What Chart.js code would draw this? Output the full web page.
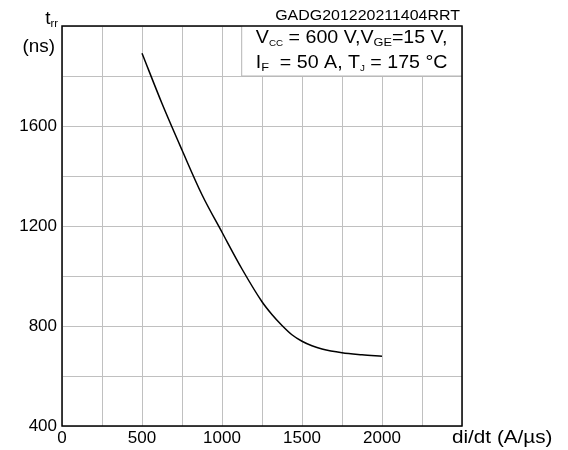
<!DOCTYPE html>
<html>
<head>
<meta charset="utf-8">
<script src="https://cdn.jsdelivr.net/npm/chart.js@4"></script>
<style>
  html, body { margin: 0; padding: 0; background: #fff; }
  #wrap { width: 568px; height: 450px; }
</style>
</head>
<body>
<div id="wrap"><canvas id="chart"></canvas></div>
<script>
// data
const didt = [500, 625, 750, 875, 1000, 1125, 1250, 1312, 1375, 1437, 1500, 1562, 1625, 1750, 1875, 2000];
const trr = [1891, 1690, 1504, 1325, 1175, 1028, 897, 846, 802, 765, 739, 721, 708, 693, 685, 679];
const xTickLabels = ['0', '500', '1000', '1500', '2000'];
const yTickLabels = ['400', '800', '1200', '1600'];

const FONT = '"Liberation Sans", Arial, sans-serif';

// draw a line of text with subscript pieces, horizontally stretched by sx
function drawRich(ctx, parts, x, y, size, align, sx) {
    sx = sx || 1;
    let total = 0;
    parts.forEach(p => {
        ctx.font = (p.sub ? size * p.sub : size) + 'px ' + FONT;
        p.w = ctx.measureText(p.t).width * sx;
        total += p.w;
    });
    let cx = align === 'right' ? x - total : (align === 'left' ? x : x - total / 2);
    ctx.textAlign = 'left';
    ctx.textBaseline = 'alphabetic';
    parts.forEach(p => {
        ctx.font = (p.sub ? size * p.sub : size) + 'px ' + FONT;
        ctx.save();
        ctx.translate(cx, p.sub ? y + size * 0.18 : y);
        ctx.scale(sx, 1);
        ctx.fillText(p.t, 0, 0);
        ctx.restore();
        cx += p.w;
    });
}

const decorations = {
    id: 'decorations',
    afterDraw(chart) {
        const ctx = chart.ctx;
        const a = chart.chartArea;
        const xs = chart.scales.x;
        const ys = chart.scales.y;
        ctx.save();

        // condition box in top-right
        const bx = xs.getPixelForValue(1120);
        const by = ys.getPixelForValue(1800);
        ctx.fillStyle = '#fff';
        ctx.fillRect(bx, a.top, a.right - bx, by - a.top);
        ctx.strokeStyle = '#b4b4b4';
        ctx.lineWidth = 1;
        ctx.beginPath();
        ctx.moveTo(bx + 0.5, a.top);
        ctx.lineTo(bx + 0.5, by);
        ctx.lineTo(a.right, by);
        ctx.stroke();

        ctx.fillStyle = '#000';
        const mid = (bx + a.right) / 2;
        drawRich(ctx, [{t: 'V'}, {t: 'CC', sub: 0.5}, {t: ' = 600 V,V'}, {t: 'GE', sub: 0.65}, {t: '=15 V,'}], mid, 43, 18, 'center', 1.09);
        drawRich(ctx, [{t: 'I'}, {t: 'F', sub: 0.65}, {t: '  = 50 A, T'}, {t: 'J', sub: 0.5}, {t: ' = 175 °C'}], mid, 68, 18, 'center', 1.09);

        // plot frame
        ctx.strokeStyle = '#000';
        ctx.lineWidth = 1.5;
        ctx.strokeRect(a.left, a.top, a.right - a.left, a.bottom - a.top);

        // title
        drawRich(ctx, [{t: 'GADG201220211404RRT'}], 460, 20, 14, 'right', 1.14);

        // axis titles
        drawRich(ctx, [{t: 't'}, {t: 'rr', sub: 0.6}], 58, 24, 18, 'right', 1.05);
        drawRich(ctx, [{t: '(ns)'}], 55, 52, 18, 'right', 1.05);
        drawRich(ctx, [{t: 'di/dt (A/µs)'}], 452, 443, 18, 'left', 1.15);
        ctx.restore();
    }
};

new Chart(document.getElementById('chart'), {
    type: 'line',
    data: {
        datasets: [{
            data: didt.map((x, i) => ({x: x, y: trr[i]})),
            borderColor: '#000',
            borderWidth: 1.5,
            pointRadius: 0,
            cubicInterpolationMode: 'monotone',
            fill: false
        }]
    },
    options: {
        responsive: true,
        maintainAspectRatio: false,
        animation: false,
        layout: { padding: { top: 26, right: 106, left: 0, bottom: 0 } },
        plugins: { legend: { display: false }, tooltip: { enabled: false } },
        scales: {
            x: {
                type: 'linear',
                min: 0,
                max: 2500,
                ticks: {
                    stepSize: 250,
                    maxRotation: 0,
                    autoSkip: false,
                    padding: 2,
                    color: '#000',
                    font: { family: FONT, size: 17 },
                    callback: v => xTickLabels.includes(String(v)) ? String(v) : ''
                },
                grid: { color: '#c0c0c0', lineWidth: 1, drawTicks: false },
                border: { display: false },
                afterFit: s => { s.height = 24; }
            },
            y: {
                min: 400,
                max: 2000,
                ticks: {
                    stepSize: 200,
                    autoSkip: false,
                    padding: 5,
                    color: '#000',
                    font: { family: FONT, size: 17 },
                    callback: v => yTickLabels.includes(String(v)) ? String(v) : ''
                },
                grid: { color: '#c0c0c0', lineWidth: 1, drawTicks: false },
                border: { display: false },
                afterFit: s => { s.width = 62; }
            }
        }
    },
    plugins: [decorations]
});
</script>
</body>
</html>
